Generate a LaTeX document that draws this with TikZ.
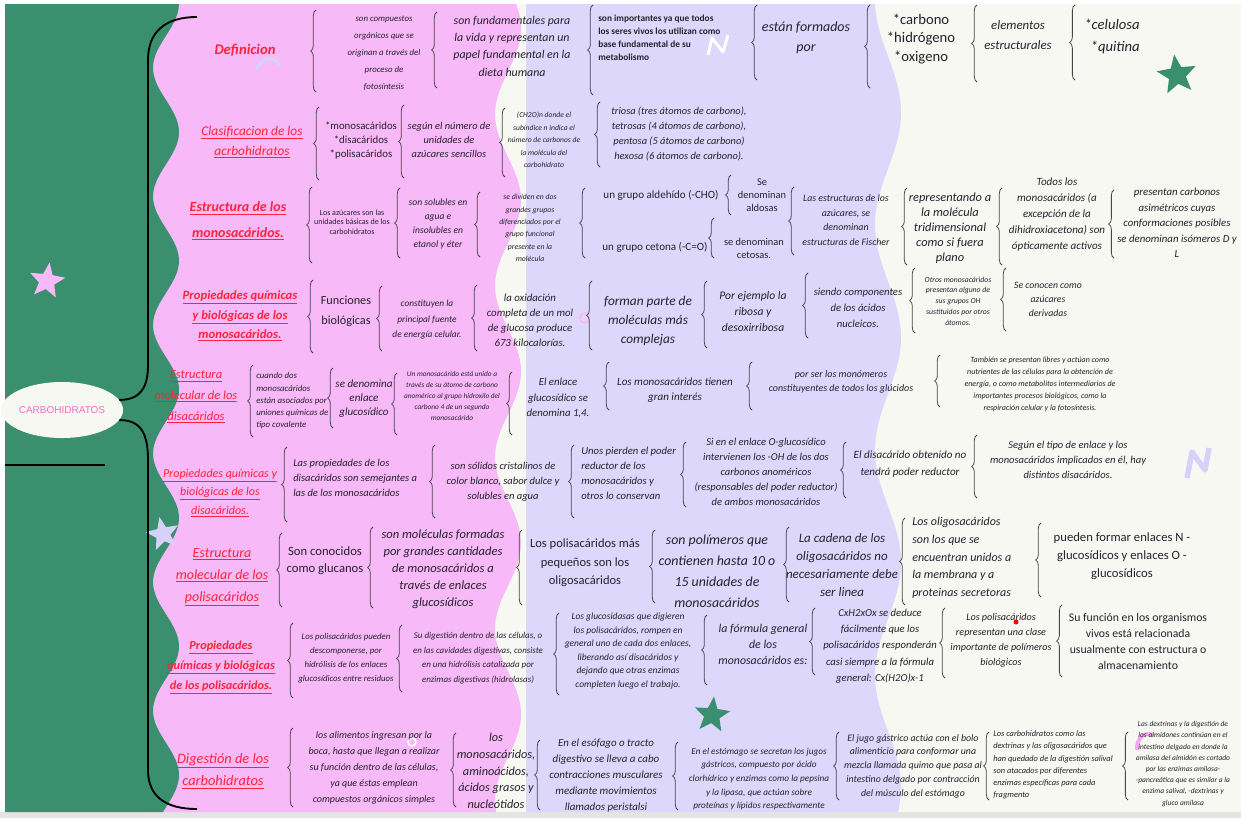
\documentclass[tikz,border=0pt]{standalone}
\usepackage{fontspec}
\setmainfont{Carlito}
\newfontfamily\arialf{Liberation Sans}
\usetikzlibrary{decorations.pathreplacing,shapes.geometric}
\definecolor{gr}{RGB}{58,143,110}
\definecolor{pk}{RGB}{247,185,247}
\definecolor{lv}{RGB}{221,215,251}
\definecolor{lvs}{RGB}{214,208,250}
\definecolor{ow}{RGB}{248,248,243}
\definecolor{txc}{RGB}{38,33,45}
\definecolor{ttc}{RGB}{255,35,60}
\definecolor{brcol}{RGB}{70,70,78}
\definecolor{ellt}{RGB}{240,110,200}
\definecolor{grayb}{RGB}{228,228,228}
\newcommand\fz[2]{\fontsize{#1}{#2}\selectfont}
\newcommand\undl[1]{\underline{#1}}
\newcommand\brc[3]{\draw[cbr] (#1,#3) -- (#1,#2);}
\tikzset{
  tx/.style={align=center, inner sep=0pt, text=txc, font=\itshape},
  ttl/.style={align=center, inner sep=0pt, text=ttc},
  cbr/.style={draw=brcol, line width=0.6pt, decorate, decoration={brace, amplitude=4pt}},
  bigbr/.style={draw=black, line width=1.4pt},
  starn/.style={star, star points=5, star point ratio=2.3, inner sep=0pt}
}
\begin{document}
\begin{tikzpicture}[x=0.75pt,y=-0.75pt]
\useasboundingbox (0,0) rectangle (1241,818);
% backgrounds
\fill[white] (0,0) rectangle (1241,818);
\fill[ow] (5,4) rectangle (1241,812);
\fill[grayb] (0,812) rectangle (1241,818);
\fill[lv] (526,4) -- plot[domain=4:812, samples=90, smooth] ({888+13*sin(\x*1.6-90)}, \x) -- (526,812) -- cycle;
\fill[pk] (140,4) -- plot[domain=4:812, samples=90, smooth] ({508+13*sin(\x*2.1+30)}, \x) -- (140,812) -- cycle;
\fill[gr] (5,4) -- plot[domain=4:812, samples=110, smooth] ({166+13*sin(\x*2.8+80)}, \x) -- (5,812) -- cycle;
% decorations
\node[starn, fill=pk, minimum size=28pt, rotate=-8] (st1) at (47,281) {};
\node[starn, fill=lvs, minimum size=26pt, rotate=12] (st2) at (163,534) {};
\node[starn, fill=gr, minimum size=31pt, rotate=8] (st3) at (1177,75) {};
\node[starn, fill=gr, minimum size=28pt, rotate=-6] (st4) at (712,715) {};
\draw[white, line width=2.2pt, line join=round] (708,55) -- (712,38) -- (723,52) -- (728,35);
\draw[lvs, line width=4pt, line join=round] (1187,478) -- (1192,452) -- (1205,470) -- (1209,448);
\draw[lvs, line width=2.5pt] (256,70) .. controls (262,56) and (275,56) .. (280,66);
\draw[pk, line width=1.2pt] (585,318) circle (5);
\draw[white, line width=1.2pt] (412,742) circle (4);
\draw[pk!90!magenta, line width=3pt] (1137,750) .. controls (1136,738) and (1146,730) .. (1153,736);
% root
\node[ellipse, fill=ow, minimum width=87pt, minimum height=42pt, inner sep=0pt, text=ellt] (root) at (62,410) {\arialf\fz{7.5}{9}CARBOHIDRATOS};
\coordinate (btop) at (197,17);
\coordinate (bbot) at (197,809);
\coordinate (hl) at (5,465);
\draw[bigbr] (root.10) .. controls (140,400) and (148,388) .. (148,365) -- (148,60) .. controls (148,32) and (165,17) .. (btop);
\draw[bigbr] (root.-10) .. controls (140,420) and (148,432) .. (148,460) -- (148,770) .. controls (148,796) and (165,809) .. (bbot);
\draw[black, line width=1.3pt] (hl) -- (root.south east |- hl);
% Row 1
\node[ttl, font=\bfseries\itshape\fz{11}{14}] (t1) at (245,50) {Definicion};
\brc{316}{10}{92}
\node[tx, font=\itshape\fz{6.6}{12.8}] (r1a) at (384,53) {son compuestos\\orgánicos que se\\originan a través del\\proceso de\\fotosíntesis};
\brc{437}{12}{88}
\node[tx, font=\itshape\fz{8.9}{13}] (r1b) at (512,46) {son fundamentales para\\la vida y representan un\\papel fundamental en la\\dieta humana};
\brc{593}{5}{95}
\node[tx, align=left, anchor=west, font=\bfseries\upshape\fz{7}{9.8}] (r1c) at (598,38) {son importantes ya que todos\\los seres vivos los utilizan como\\base fundamental de su\\metabolismo};
\brc{757}{5}{80}
\node[tx, font=\itshape\fz{10.5}{15}] (r1d) at (806,38) {están formados\\por};
\brc{870}{5}{88}
\node[tx, font=\upshape\fz{11}{14}] (r1e) at (921,39) {*carbono\\*hidrógeno\\*oxigeno};
\brc{977}{5}{82}
\node[tx, font=\itshape\fz{9.6}{15}] (r1f) at (1018,35) {elementos\\estructurales};
\brc{1075}{5}{80}
\node[tx, align=right, anchor=east, font=\itshape\fz{11}{16.5}] (r1g) at (1140,36) {*celulosa\\*quitina};
% Row 2
\node[ttl, font=\itshape\fz{10}{15}] (t2) at (252,142) {\undl{Clasificacion de los}\\\undl{acrbohidratos}};
\brc{319}{107}{180}
\node[tx, font=\upshape\fz{8.1}{10.5}] (r2a) at (361,141) {*monosacáridos\\*disacáridos\\*polisacáridos};
\brc{404}{105}{178}
\node[tx, font=\itshape\fz{7.8}{10.5}] (r2b) at (449,140) {según el número de\\unidades de\\azúcares sencillos};
\brc{505}{108}{177}
\node[tx, font=\itshape\fz{5.7}{9.4}] (r2c) at (544,140) {(CH2O)n donde el\\subíndice n indica el\\número de carbonos de\\la molécula del\\carbohidrato};
\brc{600}{102}{167}
\node[tx, font=\itshape\fz{7.8}{11.3}] (r2d) at (679,134) {triosa (tres átomos de carbono),\\tetrosas (4 átomos de carbono),\\pentosa (5 átomos de carbono)\\hexosa (6 átomos de carbono).};
% Row 3
\node[ttl, font=\bfseries\itshape\fz{10.5}{19}] (t3) at (238,221) {\undl{Estructura de los}\\\undl{monosacáridos.}};
\brc{312}{187}{263}
\node[tx, font=\upshape\fz{6}{7.1}] (r3a) at (352,222) {Los azúcares son las\\unidades básicas de los\\carbohidratos};
\brc{400}{188}{258}
\node[tx, font=\itshape\fz{7.2}{10.5}] (r3b) at (438,224) {son solubles en\\agua e\\insolubles en\\etanol y éter};
\brc{480}{192}{257}
\node[tx, font=\itshape\fz{5.8}{9.2}] (r3c) at (530,228) {se dividen en dos\\grandes grupos\\diferenciados por el\\grupo funcional\\presente en la\\molécula};
\brc{585}{188}{258}
\node[tx, font=\upshape\fz{8.3}{10}] (r3d) at (661,195) {un grupo aldehído (-CHO)};
\node[tx, font=\upshape\fz{8.3}{10}] (r3e) at (655,247) {un grupo cetona (-C=O)};
\brc{731}{175}{215}
\node[tx, font=\upshape\fz{7.8}{9.8}] (r3f) at (762,195) {Se\\denominan\\aldosas};
\brc{714}{218}{258}
\node[tx, font=\upshape\fz{7.8}{9.8}] (r3g) at (754,248) {se denominan\\cetosas.};
\brc{794}{187}{255}
\node[tx, font=\itshape\fz{7.4}{11}] (r3h) at (846,220) {Las estructuras de los\\azúcares, se\\denominan\\estructuras de Fischer};
\brc{907}{188}{265}
\node[tx, font=\itshape\fz{9.3}{11.3}] (r3i) at (950,228) {representando a\\la molécula\\tridimensional\\como si fuera\\plano};
\brc{1002}{188}{265}
\node[tx, font=\itshape\fz{8.3}{12}] (r3j) at (1057,215) {Todos los\\monosacáridos (a\\excepción de la\\dihidroxiacetona) son\\ópticamente activos};
\brc{1114}{190}{258}
\node[tx, font=\itshape\fz{8.1}{11.6}] (r3k) at (1177,223) {presentan carbonos\\asimétricos cuyas\\conformaciones posibles\\se denominan isómeros D y\\L};
% Row 4
\node[ttl, font=\bfseries\itshape\fz{9.5}{14.5}] (t4) at (240,316) {\undl{Propiedades químicas}\\\undl{y biológicas de los}\\\undl{monosacáridos.}};
\brc{313}{280}{353}
\node[tx, font=\upshape\fz{9.2}{15}] (r4a) at (346,311) {Funciones\\biológicas};
\brc{382}{286}{351}
\node[tx, font=\itshape\fz{7}{11.6}] (r4b) at (427,320) {constituyen la\\principal fuente\\de energía celular.};
\brc{477}{285}{351}
\node[tx, font=\itshape\fz{8.1}{11.3}] (r4c) at (530,320) {la oxidación\\completa de un mol\\de glucosa produce\\673 kilocalorías.};
\brc{592}{281}{350}
\node[tx, font=\itshape\fz{10}{13.9}] (r4d) at (648,321) {forman parte de\\moléculas más\\complejas};
\brc{707}{281}{348}
\node[tx, font=\itshape\fz{8.7}{12}] (r4e) at (753,312) {Por ejemplo la\\ribosa y\\desoxirribosa};
\brc{808}{273}{338}
\node[tx, font=\itshape\fz{8}{12}] (r4f) at (858,308) {siendo componentes\\de los ácidos\\nucleicos.};
\brc{915}{268}{333}
\node[tx, font=\itshape\fz{5.8}{8.1}] (r4g) at (958,301) {Otros monosacáridos\\presentan alguno de\\sus grupos OH\\sustituidos por otros\\átomos.};
\brc{1006}{268}{331}
\node[tx, font=\itshape\fz{7.3}{10.5}] (r4h) at (1048,299) {Se conocen como\\azúcares\\derivadas};
% Row 5
\node[ttl, font=\itshape\fz{9.4}{15.5}] (t5) at (196,397) {\undl{Estructura}\\\undl{molecular de los}\\\undl{disacáridos}};
\brc{253}{365}{437}
\node[tx, align=left, anchor=west, font=\itshape\fz{6.6}{9.2}] (r5a) at (256,401) {cuando dos\\monosacáridos\\están asociados por\\uniones químicas de\\tipo covalente};
\brc{333}{368}{428}
\node[tx, font=\itshape\fz{8.3}{10.5}] (r5b) at (364,399) {se denomina\\enlace\\glucosídico};
\brc{397}{373}{435}
\node[tx, font=\itshape\fz{5.5}{8.2}] (r5c) at (452,396) {Un monosacárido está unido a\\través de su átomo de carbono\\anomérico al grupo hidroxilo del\\carbono 4 de un segundo\\monosacárido};
\brc{512}{372}{435}
\node[tx, font=\itshape\fz{8.1}{11.6}] (r5d) at (558,398) {El enlace\\glucosídico se\\denomina 1,4.};
\brc{609}{362}{410}
\node[tx, font=\itshape\fz{8.3}{11.3}] (r5e) at (675,390) {Los monosacáridos tienen\\gran interés};
\brc{752}{362}{410}
\node[tx, font=\itshape\fz{7.5}{10}] (r5f) at (841,382) {por ser los monómeros\\constituyentes de todos los glúcidos};
\brc{940}{355}{407}
\node[tx, font=\itshape\fz{6}{9}] (r5g) at (1040,384) {También se presentan libres y actúan como\\nutrientes de las células para la obtención de\\energía, o como metabolitos intermediarios de\\importantes procesos biológicos, como la\\respiración celular y la fotosíntesis.};
% Row 6
\node[ttl, font=\itshape\fz{9}{13.9}] (t6) at (220,493) {\undl{Propiedades químicas y}\\\undl{biológicas de los}\\\undl{disacáridos.}};
\brc{287}{447}{522}
\node[tx, align=left, anchor=west, font=\itshape\fz{7.9}{11.3}] (r6a) at (293,478) {Las propiedades de los\\disacáridos son semejantes a\\las de los monosacáridos};
\brc{435}{445}{518}
\node[tx, font=\itshape\fz{7.9}{11.3}] (r6b) at (503,482) {son sólidos cristalinos de\\color blanco, sabor dulce y\\solubles en agua};
\brc{574}{445}{518}
\node[tx, align=left, anchor=west, font=\itshape\fz{8}{11.3}] (r6c) at (581,473) {Unos pierden el poder\\reductor de los\\monosacáridos y\\otros lo conservan};
\brc{686}{442}{507}
\node[tx, font=\itshape\fz{7.9}{11.3}] (r6d) at (766,472) {Si en el enlace O-glucosídico\\intervienen los -OH de los dos\\carbonos anoméricos\\(responsables del poder reductor)\\de ambos monosacáridos};
\brc{846}{442}{498}
\node[tx, font=\itshape\fz{8.3}{12.8}] (r6e) at (910,464) {El disacárido obtenido no\\tendrá poder reductor};
\brc{977}{435}{498}
\node[tx, font=\itshape\fz{7.9}{11.3}] (r6f) at (1068,460) {Según el tipo de enlace y los\\monosacáridos implicados en él, hay\\distintos disacáridos.};
% Row 7
\node[ttl, font=\itshape\fz{10.5}{16.5}] (t7) at (222,577) {\undl{Estructura}\\\undl{molecular de los}\\\undl{polisacáridos}};
\brc{282}{533}{607}
\node[tx, font=\upshape\fz{9.5}{12.8}] (r7a) at (325,561) {Son conocidos\\como glucanos};
\brc{373}{527}{608}
\node[tx, font=\itshape\fz{9.4}{12.8}] (r7b) at (443,569) {son moléculas formadas\\por grandes cantidades\\de monosacáridos a\\través de enlaces\\glucosídicos};
\brc{522}{530}{605}
\node[tx, font=\upshape\fz{9.4}{13.9}] (r7c) at (585,563) {Los polisacáridos más\\pequeños son los\\oligosacáridos};
\brc{655}{530}{603}
\node[tx, font=\itshape\fz{10.4}{15.8}] (r7d) at (717,571) {son polímeros que\\contienen hasta 10 o\\15 unidades de\\monosacáridos};
\brc{789}{527}{602}
\node[tx, font=\itshape\fz{9.7}{13.7}] (r7e) at (842,565) {La cadena de los\\oligosacáridos no\\necesariamente debe\\ser linea};
\brc{905}{518}{605}
\node[tx, align=left, anchor=west, font=\itshape\fz{9}{13.3}] (r7f) at (912,558) {Los oligosacáridos\\son los que se\\encuentran unidos a\\la membrana y a\\proteinas secretoras};
\brc{1041}{523}{597}
\node[tx, font=\upshape\fz{9.5}{13.5}] (r7g) at (1122,556) {pueden formar enlaces N -\\glucosídicos y enlaces O -\\glucosídicos};
% Row 8
\node[ttl, font=\bfseries\itshape\fz{9.2}{15}] (t8) at (221,667) {\undl{Propiedades}\\\undl{químicas y biológicas}\\\undl{de los polisacáridos.}};
\brc{293}{623}{698}
\node[tx, font=\itshape\fz{6.6}{10.5}] (r8a) at (346,658) {Los polisacáridos pueden\\descomponerse, por\\hidrólisis de los enlaces\\glucosídicos entre residuos};
\brc{402}{625}{692}
\node[tx, font=\itshape\fz{6.7}{10.9}] (r8b) at (478,658) {Su digestión dentro de las células, o\\en las cavidades digestivas, consiste\\en una hidrólisis catalizada por\\enzimas digestivas (hidrolasas)};
\brc{559}{613}{695}
\node[tx, font=\itshape\fz{7.1}{10.2}] (r8c) at (628,651) {Los glucosidasas que digieren\\los polisacáridos, rompen en\\general uno de cada dos enlaces,\\liberando así disacáridos y\\dejando que otras enzimas\\completen luego el trabajo.};
\brc{707}{615}{685}
\node[tx, font=\itshape\fz{8.9}{12}] (r8d) at (763,644) {la fórmula general\\de los\\monosacáridos es:};
\brc{815}{608}{675}
\node[tx, font=\itshape\fz{8}{12.2}] (r8e) at (880,646) {CxH2xOx se deduce\\fácilmente que los\\polisacáridos responderán\\casi siempre a la fórmula\\general: Cx(H2O)x-1};
\brc{945}{608}{678}
\node[tx, font=\itshape\fz{7.6}{11.3}] (r8f) at (1001,640) {Los polisacáridos\\representan una clase\\importante de polímeros\\biológicos};
\fill[red] (1016,622) circle (2.5);
\brc{1062}{605}{677}
\node[tx, font=\upshape\fz{8.8}{12}] (r8g) at (1138,641) {Su función en los organismos\\vivos está relacionada\\usualmente con estructura o\\almacenamiento};
% Row 9
\node[ttl, font=\itshape\fz{10.8}{17}] (t9) at (223,771) {\undl{Digestión de los}\\\undl{carbohidratos}};
\brc{293}{728}{807}
\node[tx, font=\itshape\fz{7.5}{12}] (r9a) at (374,768) {los alimentos ingresan por la\\boca, hasta que llegan a realizar\\su función dentro de las células,\\ya que éstas emplean\\compuestos orgánicos simples};
\brc{456}{733}{807}
\node[tx, font=\itshape\fz{9.2}{12.5}] (r9b) at (496,771) {los\\monosacáridos,\\aminoácidos,\\ácidos grasos y\\nucleótidos};
\brc{540}{740}{810}
\node[tx, font=\itshape\fz{8.2}{12}] (r9c) at (606,776) {En el esófago o tracto\\digestivo se lleva a cabo\\contracciones musculares\\mediante movimientos\\llamados peristalsi};
\brc{678}{742}{810}
\node[tx, font=\itshape\fz{6.9}{10.3}] (r9d) at (759,779) {En el estómago se secretan los jugos\\gástricos, compuesto por ácido\\clorhídrico y enzimas como la pepsina\\y la lipasa, que actúan sobre\\proteínas y lípidos respectivamente};
\brc{839}{732}{800}
\node[tx, font=\itshape\fz{7.4}{10.3}] (r9e) at (913,766) {El jugo gástrico actúa con el bolo\\alimenticio para conformar una\\mezcla llamada quimo que pasa al\\intestino delgado por contracción\\del músculo del estómago};
\brc{989}{732}{800}
\node[tx, align=left, anchor=west, font=\itshape\fz{6.3}{9.2}] (r9f) at (993,765) {Los carbohidratos como las\\dextrinas y las oligosacáridos que\\han quedado de la digestión salival\\son atacados por diferentes\\enzimas específicas para cada\\fragmento};
\brc{1128}{732}{800}
\node[tx, font=\itshape\fz{5.6}{8.4}] (r9g) at (1183,764) {Las dextrinas y la digestión de\\los almidones continúan en el\\intestino delgado en donde la\\amilasa del almidón es cortado\\por las enzimas amilasa-\\-pancreática que es similar a la\\enzima salival, -dextrinas y\\gluco amilasa};
\end{tikzpicture}
\end{document}
